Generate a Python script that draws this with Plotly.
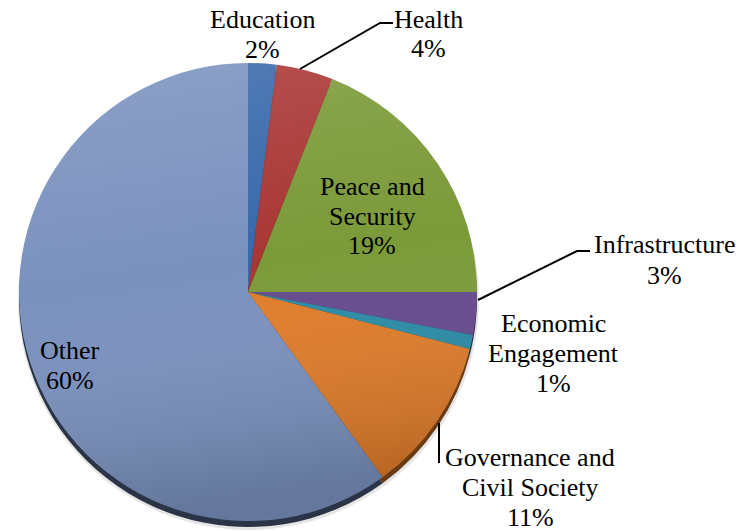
import base64
import plotly.graph_objects as go

# Share of funding by sector (percent), clockwise from 12 o'clock
sectors = ["Education", "Health", "Peace and Security", "Infrastructure",
           "Economic Engagement", "Governance and Civil Society", "Other"]
shares = [2, 4, 19, 3, 1, 11, 60]

# Label lines as drawn next to each slice
label_lines = [["Education"], ["Health"], ["Peace and", "Security"], ["Infrastructure"],
               ["Economic", "Engagement"], ["Governance and", "Civil Society"], ["Other"]]

W, H = 739, 531
CX, CY, R = 248, 292, 229          # pie centre / radius in pixels
SHADOW_DY = 6

face_colors = ["#3768aa", "#a83634", "#7b9a38", "#664a8e", "#2a8ba6", "#e07c2a", "#7a91be"]
rim_colors = ["#1d3557", "#5a1c1b", "#3f5220", "#33254a", "#16485a", "#6a3a12", "#2b3446"]

# first line centre (px) of every label, line pitch in px
label_pos = [(262, 20), (428, 19), (372, 186), (664, 245), (553, 323), (530, 457), (70, 350)]
LINE_PITCH = 30

# leader lines (px)
leaders = [[(300, 69), (380, 23), (393, 23)],
           [(478, 300), (577, 251), (590, 251)],
           [(439, 423), (439, 463)]]

SERIF = '"Liberation Serif", "DejaVu Serif", serif'


def px(x):
    return x / W


def py(y):
    return 1 - y / H


def domain(dy=0):
    return dict(x=[px(CX - R), px(CX + R)], y=[py(CY + R + dy), py(CY - R + dy)])


fig = go.Figure()

# darker copy slightly lower gives the bevelled rim under the pie
fig.add_trace(go.Pie(
    labels=sectors, values=shares, sort=False, direction="clockwise", rotation=0,
    domain=domain(SHADOW_DY), marker=dict(colors=rim_colors, line=dict(width=0)),
    textinfo="none", hoverinfo="skip", showlegend=False,
))
fig.add_trace(go.Pie(
    labels=sectors, values=shares, sort=False, direction="clockwise", rotation=0,
    domain=domain(), marker=dict(colors=face_colors, line=dict(width=0)),
    textinfo="none", showlegend=False,
))

# soft drop shadow
fig.add_shape(type="circle", xref="paper", yref="paper", layer="below",
              x0=px(CX - R - 1), x1=px(CX + R + 2),
              y0=py(CY + R + SHADOW_DY + 3), y1=py(CY - R + SHADOW_DY + 1),
              fillcolor="rgba(0,0,0,0.10)", line=dict(width=0))

# vertical light-to-dark sheen over the pie face
svg = (
    '<svg xmlns="http://www.w3.org/2000/svg" viewBox="0 0 100 100" preserveAspectRatio="none">'
    '<defs><linearGradient id="g" x1="0" y1="0" x2="0.15" y2="1">'
    '<stop offset="0" stop-color="#ffffff" stop-opacity="0.14"/>'
    '<stop offset="0.5" stop-color="#ffffff" stop-opacity="0"/>'
    '<stop offset="1" stop-color="#000000" stop-opacity="0.18"/>'
    '</linearGradient></defs>'
    '<circle cx="50" cy="50" r="50" fill="url(#g)"/></svg>'
)
fig.add_layout_image(
    source="data:image/svg+xml;base64," + base64.b64encode(svg.encode()).decode(),
    xref="paper", yref="paper", x=px(CX - R), y=py(CY - R),
    sizex=2 * R / W, sizey=2 * R / H, xanchor="left", yanchor="top",
    sizing="stretch", layer="above",
)

font = dict(family=SERIF, size=26, color="#000000")
for lines, share, (x0, y0) in zip(label_lines, shares, label_pos):
    for i, text in enumerate(lines + [f"{share}%"]):
        fig.add_annotation(x=px(x0), y=py(y0 + i * LINE_PITCH), xref="paper", yref="paper",
                           text=text, showarrow=False, font=font,
                           xanchor="center", yanchor="middle")

for pts in leaders:
    path = "M " + " L ".join(f"{px(x)},{py(y)}" for x, y in pts)
    fig.add_shape(type="path", xref="paper", yref="paper", path=path,
                  line=dict(color="#000000", width=2))

fig.update_layout(
    width=W, height=H, margin=dict(l=0, r=0, t=0, b=0),
    paper_bgcolor="#ffffff", plot_bgcolor="#ffffff", showlegend=False,
    font=dict(family=SERIF),
)

fig.write_html("out.html")
